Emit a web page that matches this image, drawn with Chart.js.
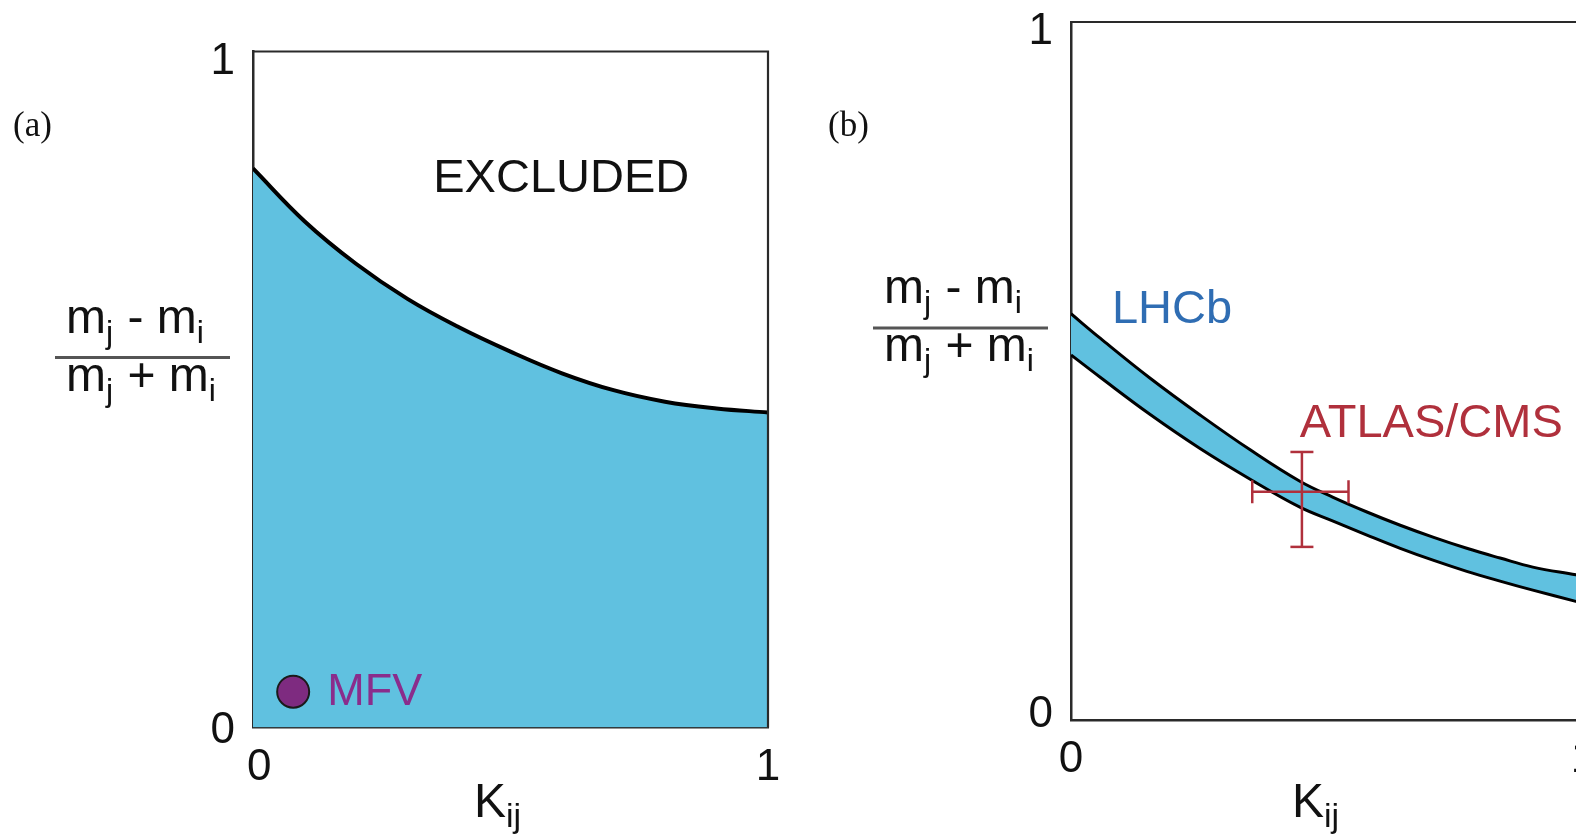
<!DOCTYPE html>
<html>
<head>
<meta charset="utf-8">
<script src="https://cdn.jsdelivr.net/npm/chart.js@4.4.1/dist/chart.umd.min.js"></script>
<style>
  html, body { margin: 0; padding: 0; background: #fff; overflow: hidden; width: 1576px; height: 838px; }
  canvas { position: absolute; top: 0; }
  #panelA { left: 0; }
  #panelB { left: 800px; }
</style>
</head>
<body>
<canvas id="panelA" width="800" height="838"></canvas>
<canvas id="panelB" width="820" height="838"></canvas>
<script>
// (a) boundary of the allowed region, K_ij vs (mj-mi)/(mj+mi)
const kA = [0, 0.1, 0.2, 0.3, 0.4, 0.5, 0.6, 0.7, 0.8, 0.9, 1.0];
const ratioA = [0.827, 0.749, 0.686, 0.634, 0.592, 0.556, 0.524, 0.499, 0.482, 0.472, 0.466];

// (b) LHCb band edges
const kB = [0, 0.057, 0.154, 0.252, 0.350, 0.447, 0.512, 0.578, 0.643, 0.707, 0.773, 0.838, 0.902, 0.986, 1.0];
const lhcbUpper = [0.582, 0.547, 0.490, 0.437, 0.387, 0.342, 0.319, 0.298, 0.279, 0.262, 0.246, 0.232, 0.219, 0.208, 0.206];
const lhcbLower = [0.523, 0.491, 0.438, 0.389, 0.345, 0.305, 0.285, 0.265, 0.246, 0.229, 0.213, 0.199, 0.186, 0.170, 0.167];

// single points
const mfvPoint = [0.078, 0.053];
const atlasPoint = [0.451, 0.327];
const atlasErrK = [0.097, 0.091];      // minus, plus
const atlasErrRatio = [0.079, 0.057];  // minus, plus

const axisTicks = [0, 1];

const SANS = '"Liberation Sans", Arial, sans-serif';
const SERIF = '"Liberation Serif", "Times New Roman", serif';
const FILL = '#60c1e0';
const RED = '#b0303c';
const FRAME = '#2a2a2a';

const pts = (xs, ys) => xs.map((x, i) => ({x: x, y: ys[i]}));

// text with subscripts: parts = [[text, isSub], ...]
function drawRich(ctx, parts, x, y, size, subSize) {
  ctx.textAlign = 'left';
  ctx.textBaseline = 'alphabetic';
  let cx = x;
  parts.forEach(p => {
    ctx.font = (p[1] ? subSize : size) + 'px ' + SANS;
    ctx.fillText(p[0], cx, p[1] ? y + 10 : y);
    cx += ctx.measureText(p[0]).width + (p[1] ? 1 : 0);
  });
}

function makeDecor(cfg) {
  return {
    id: 'decor',
    afterDraw(chart) {
      const ctx = chart.ctx;
      const a = chart.chartArea;
      const xs = chart.scales.x, ys = chart.scales.y;
      ctx.save();
      // top and right edges of the frame
      ctx.strokeStyle = FRAME;
      ctx.lineWidth = 2.2;
      ctx.beginPath();
      ctx.moveTo(a.left, a.top);
      ctx.lineTo(a.right, a.top);
      ctx.lineTo(a.right, a.bottom);
      ctx.stroke();

      ctx.fillStyle = '#111';
      // y title as a fraction
      const lx = a.left - 198, ly = a.top + 306;
      ctx.strokeStyle = '#555';
      ctx.lineWidth = 3;
      ctx.beginPath();
      ctx.moveTo(lx, ly);
      ctx.lineTo(lx + 175, ly);
      ctx.stroke();
      drawRich(ctx, [['m', 0], ['j', 1], [' - ', 0], ['m', 0], ['i', 1]], lx + 11, ly - 25, 48, 32);
      drawRich(ctx, [['m', 0], ['j', 1], [' + ', 0], ['m', 0], ['i', 1]], lx + 11, ly + 33, 48, 32);
      // x title
      drawRich(ctx, [['K', 0], ['ij', 1]], a.left + 221, 817, 48, 34);
      // panel tag
      ctx.font = '35px ' + SERIF;
      ctx.fillText(cfg.tag, cfg.tagX, 136);
      // annotations
      cfg.notes.forEach(n => {
        ctx.font = n.size + 'px ' + SANS;
        ctx.fillStyle = n.color;
        ctx.fillText(n.text, xs.getPixelForValue(n.x), ys.getPixelForValue(n.y));
      });
      ctx.restore();
    }
  };
}

// t: per-panel tick tweaks (labelOffset for y, line height used to lift the "0" label, x label text)
function axes(yWidth, xHeight, t) {
  return {
    x: {
      type: 'linear', min: 0, max: 1, z: 1,
      afterBuildTicks: s => { s.ticks = axisTicks.map(v => ({value: v})); },
      afterFit: s => { s.height = xHeight; },
      grid: {display: false, drawTicks: false},
      border: {display: true, color: FRAME, width: 2.5},
      ticks: {
        font: {family: SANS, size: 44, lineHeight: 1.15}, color: '#111', padding: 15, maxRotation: 0,
        callback: v => (v === 0 ? t.xZero : String(v))
      }
    },
    y: {
      type: 'linear', min: 0, max: 1, z: 1,
      afterBuildTicks: s => { s.ticks = axisTicks.map(v => ({value: v})); },
      afterFit: s => { s.width = yWidth; },
      grid: {display: false, drawTicks: false},
      border: {display: true, color: FRAME, width: 2.5},
      ticks: {
        color: '#111', padding: 18, labelOffset: t.yOffset,
        font: c => ({family: SANS, size: 44, lineHeight: (c.tick && c.tick.value === 0) ? t.zeroLift : 0.1}),
        callback: v => (v === 0 ? ['0', ''] : String(v))
      }
    }
  };
}

const common = {
  responsive: false,
  animation: false,
  events: [],
  plugins: {legend: {display: false}, tooltip: {enabled: false}}
};

// panel (a)
new Chart(document.getElementById('panelA'), {
  type: 'line',
  data: {
    datasets: [{
      data: [{x: mfvPoint[0], y: mfvPoint[1]}],
      showLine: false,
      pointRadius: 16,
      pointBackgroundColor: '#7e2b80',
      pointBorderColor: '#1a1a1a',
      pointBorderWidth: 2
    }, {
      data: pts(kA, ratioA),
      borderColor: '#000',
      borderWidth: 4,
      backgroundColor: FILL,
      fill: 'origin',
      pointRadius: 0,
      tension: 0.4
    }]
  },
  options: Object.assign({}, common, {
    layout: {autoPadding: false, padding: {left: 0, top: 51.5, right: 32, bottom: 0}},
    scales: axes(253, 110.5, {yOffset: 10, zeroLift: 0.31, xZero: ' 0'})
  }),
  plugins: [makeDecor({
    tag: '(a)', tagX: 13,
    notes: [
      {text: 'EXCLUDED', x: 0.35, y: 0.792, size: 47, color: '#111'},
      {text: 'MFV', x: 0.144, y: 0.033, size: 45, color: '#8a2d8c'}
    ]
  })]
});

// panel (b)
const capStyle = {borderColor: RED, borderWidth: 2.5, pointStyle: 'line', pointRadius: 11.5,
  pointBorderColor: RED, pointBorderWidth: 2.5, fill: false};
new Chart(document.getElementById('panelB'), {
  type: 'line',
  data: {
    datasets: [
      Object.assign({
        data: [{x: atlasPoint[0] - atlasErrK[0], y: atlasPoint[1]}, {x: atlasPoint[0] + atlasErrK[1], y: atlasPoint[1]}],
        pointRotation: 90
      }, capStyle),
      Object.assign({
        data: [{x: atlasPoint[0], y: atlasPoint[1] - atlasErrRatio[0]}, {x: atlasPoint[0], y: atlasPoint[1] + atlasErrRatio[1]}],
        pointRotation: 0
      }, capStyle),
      {
        data: pts(kB, lhcbLower),
        borderColor: '#000', borderWidth: 3,
        fill: false,
        pointRadius: 0, tension: 0.4
      },
      {
        data: pts(kB, lhcbUpper),
        borderColor: '#000', borderWidth: 3,
        backgroundColor: FILL, fill: '-1',
        pointRadius: 0, tension: 0.4
      }
    ]
  },
  options: Object.assign({}, common, {
    layout: {autoPadding: false, padding: {left: 0, top: 22, right: 37, bottom: 0}},
    scales: axes(271, 118, {yOffset: 9.4, zeroLift: 0.66, xZero: '0'})
  }),
  plugins: [makeDecor({
    tag: '(b)', tagX: 28,
    notes: [
      {text: 'LHCb', x: 0.080, y: 0.569, size: 47, color: '#2f6db3'},
      {text: 'ATLAS/CMS', x: 0.447, y: 0.406, size: 47, color: RED}
    ]
  })]
});
</script>
</body>
</html>
